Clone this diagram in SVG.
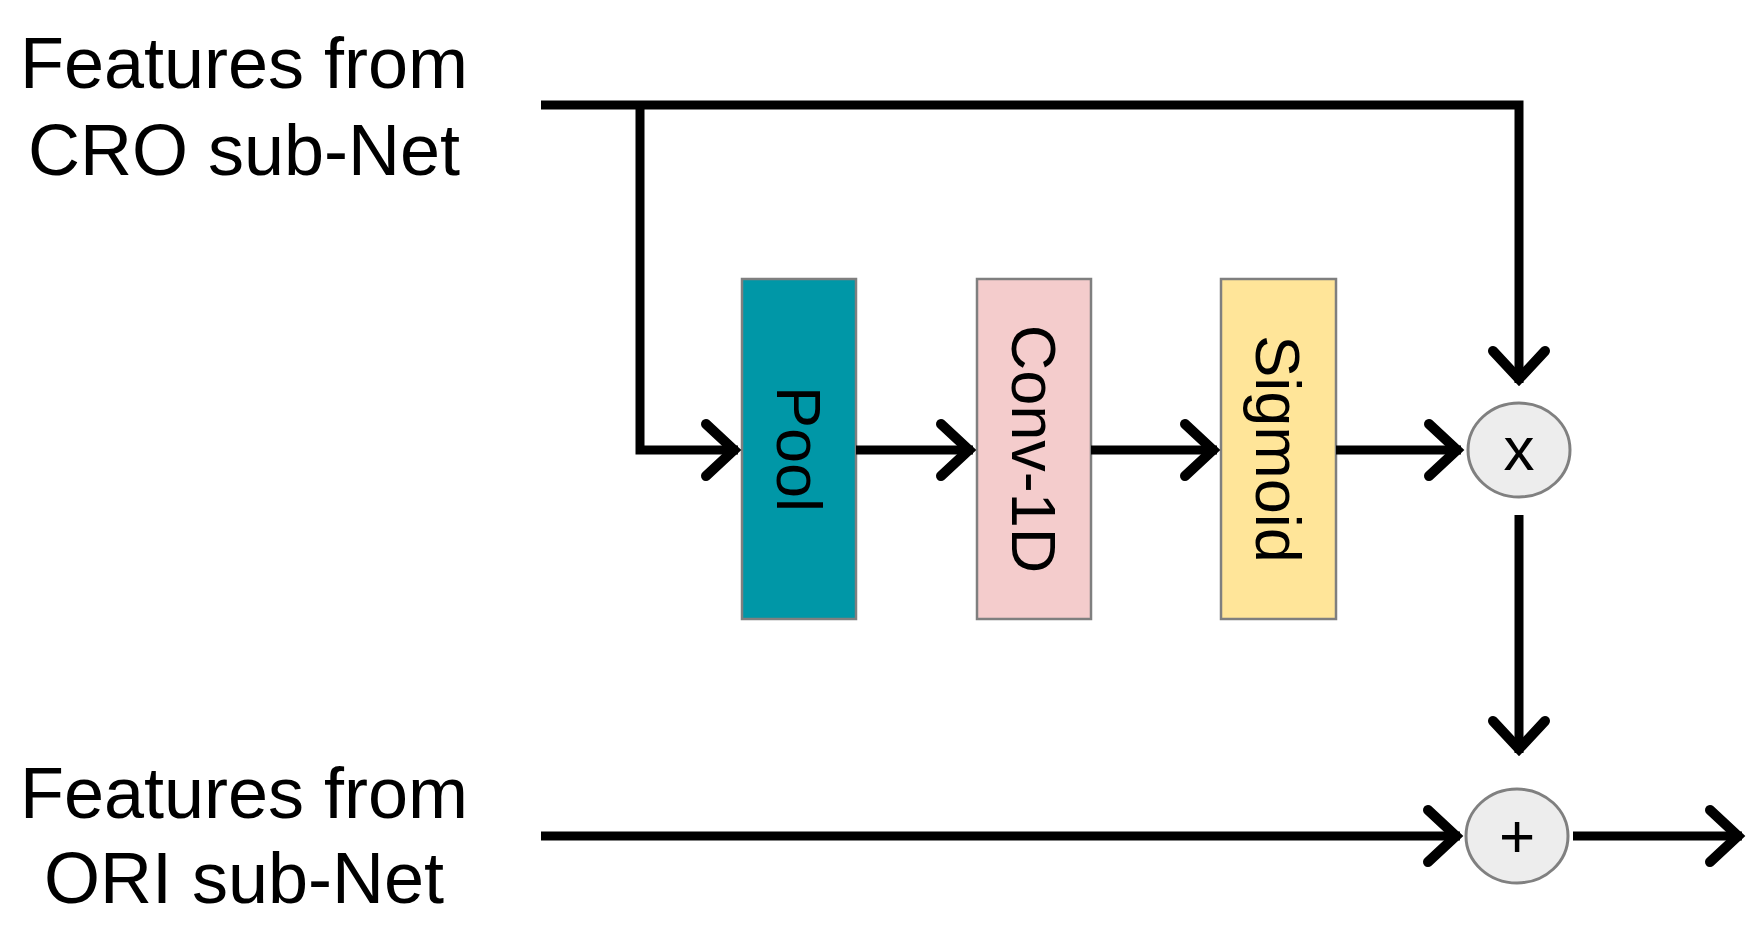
<svg xmlns="http://www.w3.org/2000/svg" width="1757" height="941" viewBox="0 0 1757 941">
<style>
.lbl{font-family:"Liberation Sans",Arial,sans-serif;font-size:72px;fill:#000;text-anchor:middle}
.btxt{font-family:"Liberation Sans",Arial,sans-serif;font-size:63px;fill:#000;text-anchor:middle}
.box{stroke:#7f7f7f;stroke-width:2.5}
.op{fill:#ededed;stroke:#808080;stroke-width:3}
.optxt{font-family:"Liberation Sans",Arial,sans-serif;font-size:62px;fill:#000;text-anchor:middle}
.con{fill:none;stroke:#000;stroke-width:9;stroke-linejoin:miter}
</style>
<defs>
<marker id="arr" markerUnits="userSpaceOnUse" markerWidth="80" markerHeight="80" viewBox="-45 -40 60 80" refX="0" refY="0" orient="auto" overflow="visible">
<path d="M-32,-26 L-4,0 L-32,26" fill="none" stroke="#000" stroke-width="10" stroke-linecap="round" stroke-linejoin="miter"/>
</marker>
</defs>
<rect width="1757" height="941" fill="#fff"/>
<g id="label-cro">
<text class="lbl" x="244" y="88">Features from</text>
<text class="lbl" x="244" y="175">CRO sub-Net</text>
</g>
<g id="label-ori">
<text class="lbl" x="244" y="818">Features from</text>
<text class="lbl" x="244" y="903">ORI sub-Net</text>
</g>
<g id="pool">
<rect class="box" x="742" y="279" width="114" height="340" fill="#0097a7"/>
<text class="btxt" transform="translate(799,449) rotate(90)" dy="0.35em">Pool</text>
</g>
<g id="conv1d">
<rect class="box" x="977" y="279" width="114" height="340" fill="#f4cccc"/>
<text class="btxt" transform="translate(1034,449) rotate(90)" dy="0.35em">Conv-1D</text>
</g>
<g id="sigmoid">
<rect class="box" x="1221" y="279" width="115" height="340" fill="#ffe599"/>
<text class="btxt" transform="translate(1278,449) rotate(90)" dy="0.35em">Sigmoid</text>
</g>
<g id="mul">
<ellipse class="op" cx="1519" cy="450" rx="51" ry="47"/>
<text class="optxt" x="1519" y="470">x</text>
</g>
<g id="add">
<ellipse class="op" cx="1517" cy="836" rx="51" ry="47"/>
<text class="optxt" x="1517" y="857">+</text>
</g>
<g id="connectors">
<path class="con" d="M541,105 H1519 V383" marker-end="url(#arr)"/>
<path class="con" d="M640,105 V450 H738" marker-end="url(#arr)"/>
<path class="con" d="M856,450 H973" marker-end="url(#arr)"/>
<path class="con" d="M1091,450 H1217" marker-end="url(#arr)"/>
<path class="con" d="M1336,450 H1461" marker-end="url(#arr)"/>
<path class="con" d="M1519,515 V753" marker-end="url(#arr)"/>
<path class="con" d="M541,836 H1460" marker-end="url(#arr)"/>
<path class="con" d="M1573,836 H1742" marker-end="url(#arr)"/>
</g>
</svg>
